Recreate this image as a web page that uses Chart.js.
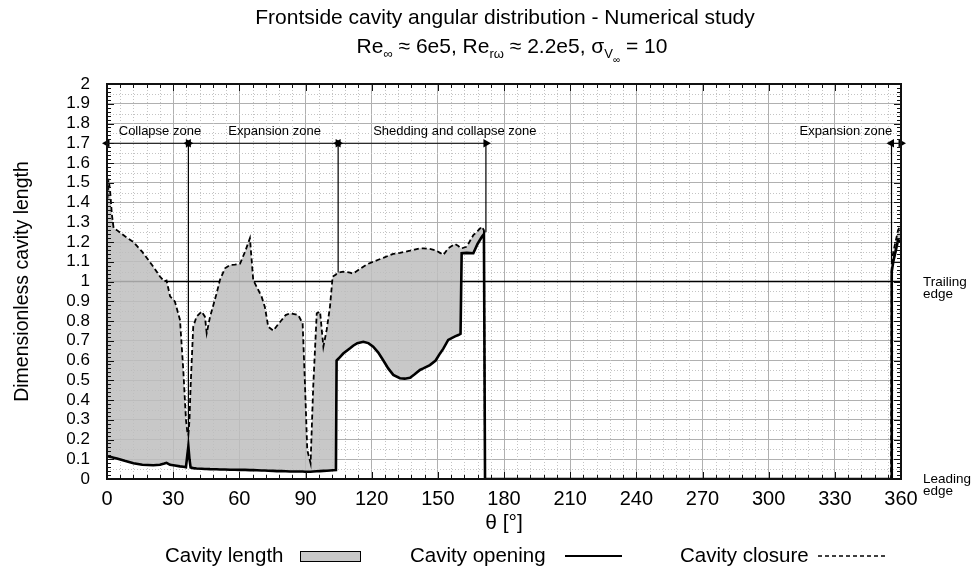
<!DOCTYPE html>
<html>
<head>
<meta charset="utf-8">
<title>Frontside cavity angular distribution</title>
<script src="https://cdn.jsdelivr.net/npm/chart.js@4.4.1/dist/chart.umd.min.js"></script>
<style>
  html, body { margin: 0; padding: 0; background: #fff; }
  canvas { display: block; }
</style>
</head>
<body>
<canvas id="cavity" width="971" height="570"></canvas>
<script>
const FONT = '"Liberation Sans", Arial, Helvetica, sans-serif';

// blade angle [deg], shared by both cavity curves
const theta = [0, 0.7, 1.4, 2.2, 3, 4.5, 8, 12, 16, 21, 24, 26, 27, 28.6, 30.8, 33.1, 34.6, 35.8, 36.4, 36.9,
  37.4, 37.9, 39.1, 40.6, 42.9, 44.4, 45.2, 46.7, 49.7, 51.2, 53.5, 55.8, 58, 60.3, 62.6, 64.8, 66.3, 68, 70.1, 71.6,
  73.1, 75.4, 77, 79.2, 81, 83, 86.7, 88.7, 89.8, 90.8, 92.3, 93.5, 95.1, 96.6, 98.1, 99.6, 101.1, 102.3, 103.8, 104.1,
  105, 107.1, 110.2, 111.6, 113.5, 116.2, 118.5, 120.7, 123, 125.3, 127.5, 129.8, 132.8, 135, 137.4, 139.5, 141.9, 143.4, 146.4, 149,
  151, 152.5, 154.7, 157.8, 159.3, 160.3, 160.8, 163.1, 166.1, 168, 169.9, 170.9, 171.4, 355.5, 355.8, 356.5, 357.5, 358.7, 360];

// cavity opening (leading side), dimensionless
const opening = [0.115, 0.114, 0.112, 0.110, 0.108, 0.104, 0.092, 0.080, 0.072, 0.070, 0.072, 0.078, 0.082, 0.072, 0.068, 0.064, 0.062, 0.060, 0.12, 0.165,
  0.10, 0.058, 0.055, 0.053, 0.052, 0.051, 0.051, 0.050, 0.049, 0.048, 0.048, 0.047, 0.047, 0.046, 0.046, 0.045, 0.045, 0.044, 0.043, 0.043,
  0.042, 0.041, 0.040, 0.040, 0.039, 0.038, 0.038, 0.038, 0.037, 0.037, 0.037, 0.038, 0.039, 0.040, 0.041, 0.042, 0.043, 0.044, 0.045, 0.60,
  0.61, 0.635, 0.662, 0.675, 0.688, 0.695, 0.688, 0.67, 0.64, 0.60, 0.56, 0.527, 0.51, 0.508, 0.513, 0.53, 0.552, 0.56, 0.577, 0.60,
  0.636, 0.66, 0.704, 0.722, 0.729, 0.735, 1.143, 1.145, 1.143, 1.19, 1.225, 1.24, 0, 0, 1.05, 1.10, 1.15, 1.21, 1.20];

// cavity closure (trailing side), dimensionless
const closure = [1.38, 1.52, 1.46, 1.34, 1.27, 1.26, 1.23, 1.20, 1.15, 1.075, 1.025, 1.00, 1.005, 0.925, 0.898, 0.805, 0.55, 0.30, 0.24, 0.223,
  0.30, 0.467, 0.771, 0.822, 0.847, 0.822, 0.738, 0.82, 0.94, 1.008, 1.067, 1.084, 1.085, 1.09, 1.151, 1.219, 1.008, 0.97, 0.923, 0.87,
  0.771, 0.751, 0.775, 0.805, 0.83, 0.839, 0.83, 0.788, 0.467, 0.147, 0.08, 0.467, 0.839, 0.847, 0.67, 0.755, 0.873, 1.024, 1.035, 1.04,
  1.045, 1.05, 1.045, 1.04, 1.055, 1.075, 1.09, 1.10, 1.11, 1.12, 1.13, 1.14, 1.145, 1.15, 1.156, 1.162, 1.168, 1.168, 1.165, 1.158,
  1.145, 1.134, 1.168, 1.19, 1.18, 1.168, 1.168, 1.176, 1.235, 1.255, 1.277, 1.26, 0, 0, 1.09, 1.15, 1.20, 1.26, 1.29];

// zones marked along the top of the plot
const zoneNames = ["Collapse zone", "Expansion zone", "Shedding and collapse zone", "Expansion zone"];
const zoneStart = [0, 36.9, 104.8, 355.7];
const zoneEnd = [36.9, 104.8, 171.8, 360];
const zoneLabelAngles = [24, 76, 157.7, 335];
const dividerAngles = [36.9, 104.8, 171.8, 355.7];
const dividerEnds = [0.165, 1.045, 1.25, 1.09];
const zoneLevel = 1.7;
const trailingEdge = 1;

const angleTicks = [0, 30, 60, 90, 120, 150, 180, 210, 240, 270, 300, 330, 360];
const lengthTicks = [0, 0.1, 0.2, 0.3, 0.4, 0.5, 0.6, 0.7, 0.8, 0.9, 1, 1.1, 1.2, 1.3, 1.4, 1.5, 1.6, 1.7, 1.8, 1.9, 2];

const FILL = "rgba(190,190,190,0.85)";
const pts = (xs, ys) => xs.map((x, i) => ({ x, y: ys[i] }));

const datasets = [
  {
    label: "Cavity opening",
    data: pts(theta, opening),
    borderColor: "#000",
    borderWidth: 2.6,
    fill: false,
    order: 1,
  },
  {
    label: "Cavity closure",
    data: pts(theta, closure),
    borderColor: "#000",
    borderWidth: 1.8,
    borderDash: [5, 3],
    backgroundColor: FILL,
    fill: { target: 0 },
    order: 2,
  },
  {
    label: "Trailing edge",
    data: [{ x: 0, y: trailingEdge }, { x: 360, y: trailingEdge }],
    borderColor: "#000",
    borderWidth: 1.5,
    order: 5,
  },
];

// double headed arrow for every zone
zoneNames.forEach((name, i) => {
  datasets.push({
    label: name,
    data: [{ x: zoneStart[i], y: zoneLevel }, { x: zoneEnd[i], y: zoneLevel }],
    borderColor: "#000",
    borderWidth: 1,
    pointStyle: "triangle",
    pointRadius: 5,
    pointRotation: [-90, 90],
    pointBackgroundColor: "#000",
    pointBorderColor: "#000",
    pointBorderWidth: 0,
    clip: false,
    order: 0,
  });
});
// vertical dividers between zones
dividerAngles.forEach((a, i) => {
  datasets.push({
    data: [{ x: a, y: zoneLevel }, { x: a, y: dividerEnds[i] }],
    borderColor: "#000",
    borderWidth: 1.2,
    order: 0,
  });
});

// dotted minor grid, frame and inward tick marks
const framePlugin = {
  id: "frame",
  beforeDatasetsDraw(chart) {
    const { ctx, chartArea: a, scales: { x, y } } = chart;
    ctx.save();
    ctx.strokeStyle = "#c4c4c4";
    ctx.lineWidth = 1;
    ctx.setLineDash([1, 2]);
    ctx.beginPath();
    for (let t = 6; t < 360; t += 6) {
      if (t % 30 === 0) continue;
      const px = Math.round(x.getPixelForValue(t)) + 0.5;
      ctx.moveTo(px, a.top);
      ctx.lineTo(px, a.bottom);
    }
    for (let k = 1; k < 40; k += 2) {
      const py = Math.round(y.getPixelForValue(k * 0.05)) + 0.5;
      ctx.moveTo(a.left, py);
      ctx.lineTo(a.right, py);
    }
    ctx.stroke();
    ctx.restore();
  },
  afterDatasetsDraw(chart) {
    const { ctx, chartArea: a, scales: { x, y } } = chart;
    ctx.save();
    ctx.strokeStyle = "#111";
    ctx.lineWidth = 1;
    ctx.beginPath();
    for (let t = 0; t <= 360; t += 6) {
      const px = Math.round(x.getPixelForValue(t)) + 0.5;
      const len = t % 30 === 0 ? 7 : 4;
      ctx.moveTo(px, a.bottom);
      ctx.lineTo(px, a.bottom - len);
      ctx.moveTo(px, a.top);
      ctx.lineTo(px, a.top + len);
    }
    for (let k = 0; k <= 100; k++) {
      const py = Math.round(y.getPixelForValue(k * 0.02)) + 0.5;
      const len = k % 5 === 0 ? 7 : 4;
      ctx.moveTo(a.left, py);
      ctx.lineTo(a.left + len, py);
      ctx.moveTo(a.right, py);
      ctx.lineTo(a.right - len, py);
    }
    ctx.stroke();
    ctx.lineWidth = 2;
    ctx.strokeRect(a.left, a.top, a.right - a.left, a.bottom - a.top);
    ctx.restore();
  },
};

// write rich text made of [text, subscript level] parts, centred on cx
function drawRich(ctx, parts, cx, baseline) {
  const sizes = [21, 13, 10];
  const shifts = [0, 5, 10];
  let total = 0;
  parts.forEach(([t, lvl]) => {
    ctx.font = `${sizes[lvl]}px ${FONT}`;
    total += ctx.measureText(t).width;
  });
  let px = cx - total / 2;
  ctx.textAlign = "left";
  ctx.textBaseline = "alphabetic";
  parts.forEach(([t, lvl]) => {
    ctx.font = `${sizes[lvl]}px ${FONT}`;
    ctx.fillText(t, px, baseline + shifts[lvl]);
    px += ctx.measureText(t).width;
  });
}

const textPlugin = {
  id: "texts",
  afterDraw(chart) {
    const { ctx, scales: { x, y } } = chart;
    ctx.save();
    ctx.fillStyle = "#000";

    // titles
    ctx.font = `21px ${FONT}`;
    ctx.textAlign = "center";
    ctx.textBaseline = "alphabetic";
    ctx.fillText("Frontside cavity angular distribution - Numerical study", 505, 24);
    drawRich(ctx, [["Re", 0], ["\u221e", 1], [" \u2248 6e5, Re", 0], ["r\u03c9", 1],
      [" \u2248 2.2e5, \u03c3", 0], ["V", 1], ["\u221e", 2], [" = 10", 0]], 512, 53);

    // zone names
    ctx.font = `13px ${FONT}`;
    ctx.textAlign = "center";
    ctx.textBaseline = "middle";
    zoneNames.forEach((name, i) => {
      ctx.fillText(name, x.getPixelForValue(zoneLabelAngles[i]), y.getPixelForValue(1.76));
    });

    // edge markers on the right
    ctx.font = `13.5px ${FONT}`;
    ctx.textAlign = "left";
    const ex = x.right + 22;
    ctx.fillText("Trailing", ex, y.getPixelForValue(trailingEdge) + 1);
    ctx.fillText("edge", ex, y.getPixelForValue(trailingEdge) + 13);
    ctx.fillText("Leading", ex, y.getPixelForValue(0));
    ctx.fillText("edge", ex, y.getPixelForValue(0) + 12);

    // legend: label first, symbol after it
    ctx.font = `20.5px ${FONT}`;
    ctx.textBaseline = "alphabetic";
    const ly = 562;
    ctx.fillText("Cavity length", 165, ly);
    ctx.fillStyle = "#c8c8c8";
    ctx.fillRect(300, 551, 60, 10);
    ctx.strokeStyle = "#000";
    ctx.lineWidth = 1;
    ctx.strokeRect(300.5, 551.5, 60, 10);

    ctx.fillStyle = "#000";
    ctx.fillText("Cavity opening", 410, ly);
    ctx.lineWidth = 2;
    ctx.beginPath();
    ctx.moveTo(565, 556);
    ctx.lineTo(622, 556);
    ctx.stroke();

    ctx.fillText("Cavity closure", 680, ly);
    ctx.lineWidth = 1.5;
    ctx.setLineDash([4, 3]);
    ctx.beginPath();
    ctx.moveTo(818, 556);
    ctx.lineTo(885, 556);
    ctx.stroke();
    ctx.restore();
  },
};

new Chart(document.getElementById("cavity"), {
  type: "line",
  data: { datasets },
  options: {
    responsive: false,
    animation: false,
    devicePixelRatio: 1,
    layout: { padding: { top: 84, right: 70, bottom: 30, left: 0 } },
    elements: {
      line: { tension: 0 },
      point: { radius: 0, hoverRadius: 0 },
    },
    plugins: {
      legend: { display: false },
      tooltip: { enabled: false },
      filler: { propagate: false },
    },
    scales: {
      x: {
        type: "linear",
        min: 0,
        max: 360,
        afterBuildTicks: (s) => { s.ticks = angleTicks.map((v) => ({ value: v })); },
        afterFit: (s) => { s.height = 61; },
        grid: { color: "#b0b0b0", lineWidth: 1, drawTicks: false },
        border: { display: false },
        ticks: {
          color: "#000",
          font: { family: FONT, size: 20 },
          padding: 8,
          maxRotation: 0,
          autoSkip: false,
        },
        title: {
          display: true,
          text: "\u03b8 [\u00b0]",
          color: "#000",
          font: { family: FONT, size: 21 },
          padding: { top: 0, bottom: 4 },
        },
      },
      y: {
        min: 0,
        max: 2,
        afterBuildTicks: (s) => { s.ticks = lengthTicks.map((v) => ({ value: v })); },
        afterFit: (s) => { s.width = 107; },
        grid: { color: "#b0b0b0", lineWidth: 1, drawTicks: false },
        border: { display: false },
        ticks: {
          color: "#000",
          font: { family: FONT, size: 17 },
          padding: 17,
          autoSkip: false,
          callback: (v) => String(parseFloat(Number(v).toFixed(1))),
        },
        title: {
          display: true,
          text: "Dimensionless cavity length",
          color: "#000",
          font: { family: FONT, size: 19.5 },
          padding: { top: 11, bottom: 0 },
        },
      },
    },
  },
  plugins: [framePlugin, textPlugin],
});
</script>
</body>
</html>
